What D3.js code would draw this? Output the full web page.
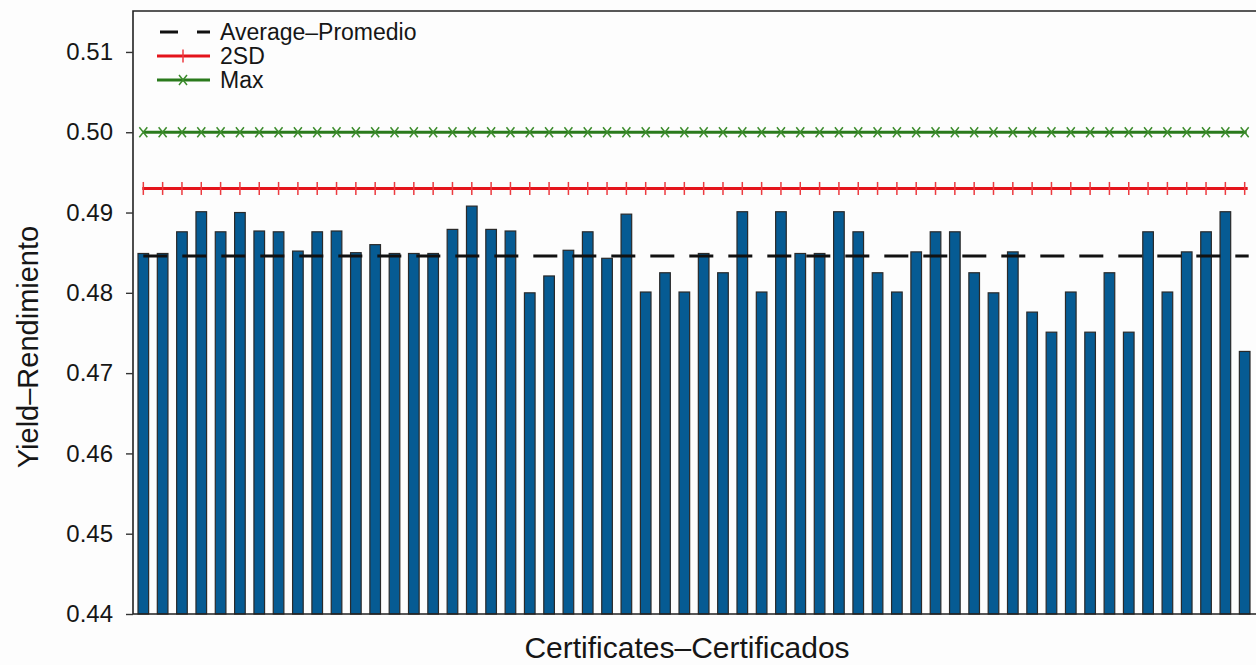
<!DOCTYPE html>
<html>
<head>
<meta charset="utf-8">
<script src="https://cdn.jsdelivr.net/npm/d3@7"></script>
<style>
  body { margin: 0; background: #fdfdfd; }
  svg { display: block; font-family: "Liberation Sans", Arial, sans-serif; }
</style>
</head>
<body>
<div id="chart"></div>
<script>
// yield per certificate
const YIELDS = [
  0.4849, 0.4849, 0.4876, 0.4901, 0.4876, 0.4900, 0.4877, 0.4876, 0.4852, 0.4876,
  0.4877, 0.4850, 0.4860, 0.4849, 0.4849, 0.4849, 0.4879, 0.4908, 0.4879, 0.4877,
  0.4800, 0.4821, 0.4853, 0.4876, 0.4843, 0.4898, 0.4801, 0.4825, 0.4801, 0.4849,
  0.4825, 0.4901, 0.4801, 0.4901, 0.4849, 0.4849, 0.4901, 0.4876, 0.4825, 0.4801,
  0.4851, 0.4876, 0.4876, 0.4825, 0.4800, 0.4851, 0.4776, 0.4751, 0.4801, 0.4751,
  0.4825, 0.4751, 0.4876, 0.4801, 0.4851, 0.4876, 0.4901, 0.4727
];
const AVERAGE = 0.4846;
const SD2 = 0.4930;
const MAX = 0.5000;
const Y_TICKS = [0.44, 0.45, 0.46, 0.47, 0.48, 0.49, 0.50, 0.51];
const LEGEND = ['Average\u2013Promedio', '2SD', 'Max'];

const W = 1256, H = 665;
const plotLeft = 133, plotRight = 1257, plotTop = 11, plotBottom = 614;

const svg = d3.select('#chart').append('svg')
  .attr('width', W)
  .attr('height', H);

const x = d3.scaleBand()
  .domain(d3.range(YIELDS.length))
  .range([138, 1250])
  .paddingInner(0.45)
  .paddingOuter(0);

const y = d3.scaleLinear()
  .domain([0.44, 0.5151])
  .range([plotBottom, plotTop]);

const cx = i => x(i) + x.bandwidth() / 2;

// bars
svg.append('g')
  .selectAll('rect')
  .data(YIELDS)
  .join('rect')
  .attr('x', (d, i) => x(i))
  .attr('y', d => y(d))
  .attr('width', x.bandwidth())
  .attr('height', d => y(0.44) - y(d))
  .attr('fill', '#065b93')
  .attr('stroke', '#2a2a2a')
  .attr('stroke-width', 1.2);

const x0 = cx(0), x1 = cx(YIELDS.length - 1);

// max line with x markers
svg.append('line')
  .attr('x1', x0).attr('x2', x1 + 2)
  .attr('y1', y(MAX)).attr('y2', y(MAX))
  .attr('stroke', '#2a7a1c').attr('stroke-width', 3);
svg.append('g')
  .selectAll('path')
  .data(YIELDS)
  .join('path')
  .attr('d', (d, i) => `M${cx(i) - 4},${y(MAX) - 5}L${cx(i) + 4},${y(MAX) + 5}M${cx(i) - 4},${y(MAX) + 5}L${cx(i) + 4},${y(MAX) - 5}`)
  .attr('stroke', '#3c8c2c').attr('stroke-width', 1.5).attr('fill', 'none');

// 2SD line with + markers
svg.append('line')
  .attr('x1', x0 - 1).attr('x2', x1 + 3)
  .attr('y1', y(SD2)).attr('y2', y(SD2))
  .attr('stroke', '#e4141b').attr('stroke-width', 3);
svg.append('g')
  .selectAll('line')
  .data(YIELDS)
  .join('line')
  .attr('x1', (d, i) => cx(i)).attr('x2', (d, i) => cx(i))
  .attr('y1', y(SD2) - 6.5).attr('y2', y(SD2) + 6.5)
  .attr('stroke', '#ec3a3f').attr('stroke-width', 1.5);

// average, dashed
svg.append('line')
  .attr('x1', x0).attr('x2', x1 + 4)
  .attr('y1', y(AVERAGE)).attr('y2', y(AVERAGE))
  .attr('stroke', '#111').attr('stroke-width', 3)
  .attr('stroke-dasharray', '24,15');

// frame
svg.append('path')
  .attr('d', `M${plotRight},${plotTop}H${plotLeft}V${plotBottom}H${plotRight}`)
  .attr('fill', 'none')
  .attr('stroke', '#222')
  .attr('stroke-width', 1.6);

// y axis
const yAxis = svg.append('g')
  .attr('transform', `translate(${plotLeft},0)`)
  .call(d3.axisLeft(y).tickValues(Y_TICKS).tickFormat(d3.format('.2f')).tickSize(7).tickPadding(13));
yAxis.select('.domain').remove();
yAxis.selectAll('line').attr('stroke', '#333').attr('stroke-width', 1.4);
yAxis.selectAll('text')
  .attr('fill', '#161616')
  .style('font-size', '24px')
  .style('font-family', '"Liberation Sans", Arial, sans-serif');

// titles
svg.append('text')
  .attr('x', 687).attr('y', 658)
  .attr('text-anchor', 'middle')
  .attr('fill', '#161616')
  .style('font-size', '30px')
  .text('Certificates\u2013Certificados');

svg.append('text')
  .attr('transform', 'translate(38,347) rotate(-90)')
  .attr('text-anchor', 'middle')
  .attr('fill', '#161616')
  .style('font-size', '29px')
  .text('Yield\u2013Rendimiento');

// legend
const leg = svg.append('g');
const rowY = i => 32 + i * 24;

leg.append('line')
  .attr('x1', 160).attr('x2', 210)
  .attr('y1', rowY(0)).attr('y2', rowY(0))
  .attr('stroke', '#111').attr('stroke-width', 3)
  .attr('stroke-dasharray', '18,19');

leg.append('line')
  .attr('x1', 157).attr('x2', 210)
  .attr('y1', rowY(1)).attr('y2', rowY(1))
  .attr('stroke', '#e4141b').attr('stroke-width', 3);
leg.append('line')
  .attr('x1', 183).attr('x2', 183)
  .attr('y1', rowY(1) - 6.5).attr('y2', rowY(1) + 6.5)
  .attr('stroke', '#ec3a3f').attr('stroke-width', 1.5);

leg.append('line')
  .attr('x1', 157).attr('x2', 210)
  .attr('y1', rowY(2)).attr('y2', rowY(2))
  .attr('stroke', '#2a7a1c').attr('stroke-width', 3);
leg.append('path')
  .attr('d', `M179,${rowY(2) - 5}L187,${rowY(2) + 5}M179,${rowY(2) + 5}L187,${rowY(2) - 5}`)
  .attr('stroke', '#3c8c2c').attr('stroke-width', 1.5).attr('fill', 'none');

leg.selectAll('text')
  .data(LEGEND)
  .join('text')
  .attr('x', 220)
  .attr('y', (d, i) => rowY(i))
  .attr('dy', '0.35em')
  .attr('fill', '#161616')
  .style('font-size', '23px')
  .text(d => d);
</script>
</body>
</html>
